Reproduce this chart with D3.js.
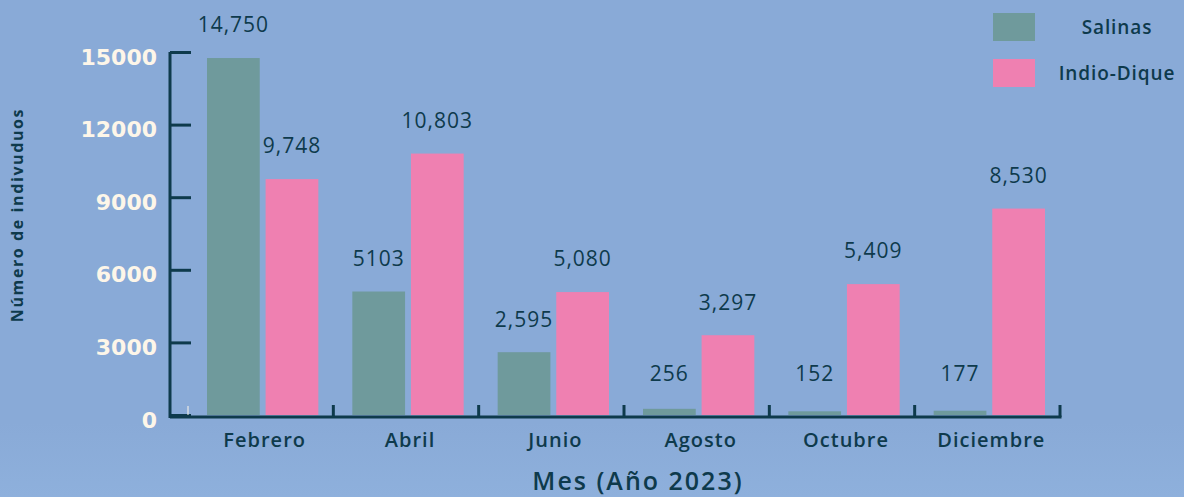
<!DOCTYPE html>
<html>
<head>
<meta charset="utf-8">
<script src="https://cdn.jsdelivr.net/npm/d3@7"></script>
<style>
  html, body { margin: 0; padding: 0; background: #89aad7; }
  svg { display: block; }
</style>
</head>
<body>
<div id="chart"></div>
<script>
// data
const months = ["Febrero", "Abril", "Junio", "Agosto", "Octubre", "Diciembre"];
const seriesNames = ["Salinas", "Indio-Dique"];
const salinas = [14750, 5103, 2595, 256, 152, 177];
const indioDique = [9748, 10803, 5080, 3297, 5409, 8530];
const salinasLabels = ["14,750", "5103", "2,595", "256", "152", "177"];
const indioLabels = ["9,748", "10,803", "5,080", "3,297", "5,409", "8,530"];
const yTicks = [0, 3000, 6000, 9000, 12000, 15000];

const width = 1184, height = 497;
const dark = "#0e3a4c";
const colors = { "Salinas": "#6f9a9c", "Indio-Dique": "#ef80b1" };

const svg = d3.select("#chart").append("svg")
    .attr("width", width)
    .attr("height", height);

const defs = svg.append("defs");
const grad = defs.append("linearGradient")
    .attr("id", "bg").attr("x1", 0).attr("y1", 0).attr("x2", 0).attr("y2", 1);
grad.append("stop").attr("offset", "0%").attr("stop-color", "#89aad7");
grad.append("stop").attr("offset", "85%").attr("stop-color", "#89aad7");
grad.append("stop").attr("offset", "100%").attr("stop-color", "#8eb0dc");
svg.append("rect").attr("width", width).attr("height", height).attr("fill", "url(#bg)");

const y = d3.scaleLinear().domain([0, 15000]).range([415, 52]);
const x0 = d3.scaleBand().domain(months).range([188, 1060]).padding(0);
const x1 = d3.scaleBand().domain(seriesNames)
    .range([19, x0.bandwidth() - 15]).paddingInner(0.1);

const data = months.map((m, i) => ({
    month: m,
    values: [
        { key: "Salinas", value: salinas[i], label: salinasLabels[i] },
        { key: "Indio-Dique", value: indioDique[i], label: indioLabels[i] }
    ]
}));

// bars
const groups = svg.selectAll(".group")
    .data(data)
    .enter().append("g")
    .attr("class", "group")
    .attr("transform", d => `translate(${x0(d.month)},0)`);

groups.selectAll("rect")
    .data(d => d.values)
    .enter().append("rect")
    .attr("x", d => x1(d.key))
    .attr("y", d => y(d.value))
    .attr("width", x1.bandwidth())
    .attr("height", d => y(0) - y(d.value))
    .attr("fill", d => colors[d.key]);

groups.selectAll(".value-label")
    .data(d => d.values)
    .enter().append("text")
    .attr("class", "value-label")
    .attr("x", d => x1(d.key) + x1.bandwidth() / 2)
    .attr("y", d => Math.min(y(d.value), y(0) - 8) - 33)
    .attr("dy", "0.35em")
    .attr("text-anchor", "middle")
    .style("font-family", "'Open Sans', sans-serif")
    .style("font-size", "21px")
    .style("font-weight", 500)
    .style("letter-spacing", "1px")
    .style("fill", dark)
    .text(d => d.label);

// y axis
const yAxis = d3.axisLeft(y)
    .tickValues(yTicks)
    .tickSize(-21)
    .tickPadding(13)
    .tickFormat(d3.format("d"));

const yAxisGroup = svg.append("g")
    .attr("class", "y-axis")
    .attr("transform", "translate(170,0)")
    .call(yAxis);

yAxisGroup.select(".domain").remove();
yAxisGroup.append("line")
    .attr("x1", 0).attr("x2", 0)
    .attr("y1", y(15000)).attr("y2", y(0) + 3)
    .attr("stroke", dark).attr("stroke-width", 3);
yAxisGroup.selectAll(".tick line")
    .attr("stroke", dark).attr("stroke-width", 3);
yAxisGroup.selectAll(".tick text")
    .attr("dy", "0.55em")
    .style("font-family", "'DejaVu Sans', sans-serif")
    .style("font-size", "22px")
    .style("font-weight", "bold")
    .style("fill", "#fdf6e9");

// x axis
svg.append("line")
    .attr("x1", 170).attr("x2", x0.range()[1] + 1.5)
    .attr("y1", y(0) + 2).attr("y2", y(0) + 2)
    .attr("stroke", dark).attr("stroke-width", 3);

svg.selectAll(".x-sep")
    .data(months)
    .enter().append("line")
    .attr("class", "x-sep")
    .attr("x1", d => x0(d) + x0.bandwidth())
    .attr("x2", d => x0(d) + x0.bandwidth())
    .attr("y1", y(0) - 10).attr("y2", y(0) + 2)
    .attr("stroke", dark).attr("stroke-width", 3);

svg.append("line")
    .attr("x1", x0.range()[0]).attr("x2", x0.range()[0])
    .attr("y1", y(0) - 9).attr("y2", y(0))
    .attr("stroke", "#fdf6e9").attr("stroke-width", 1);

const xAxis = d3.axisBottom(x0).tickSize(0).tickPadding(16);
const xAxisGroup = svg.append("g")
    .attr("class", "x-axis")
    .attr("transform", `translate(4,${y(0) + 2})`)
    .call(xAxis);
xAxisGroup.select(".domain").remove();
xAxisGroup.selectAll(".tick text")
    .style("font-family", "'Open Sans', sans-serif")
    .style("font-size", "20px")
    .style("font-weight", 600)
    .style("letter-spacing", "1px")
    .style("fill", dark);

// axis titles
svg.append("text")
    .attr("x", 638)
    .attr("y", 490)
    .attr("text-anchor", "middle")
    .style("font-family", "'Open Sans', sans-serif")
    .style("font-size", "25px")
    .style("font-weight", 600)
    .style("letter-spacing", "2px")
    .style("fill", dark)
    .text("Mes (Año 2023)");

svg.append("text")
    .attr("transform", "translate(23,215) rotate(-90)")
    .attr("text-anchor", "middle")
    .style("font-family", "'Open Sans', sans-serif")
    .style("font-size", "16px")
    .style("font-weight", 700)
    .style("letter-spacing", "1.6px")
    .style("fill", dark)
    .text("Número de indivuduos");

// legend
const legend = svg.selectAll(".legend")
    .data(seriesNames)
    .enter().append("g")
    .attr("class", "legend")
    .attr("transform", (d, i) => `translate(993,${13 + i * 46})`);

legend.append("rect")
    .attr("width", 42).attr("height", 28)
    .attr("fill", d => colors[d]);

legend.append("text")
    .attr("x", 124).attr("y", 14)
    .attr("dy", "0.35em")
    .attr("text-anchor", "middle")
    .style("font-family", "'Open Sans', sans-serif")
    .style("font-size", "19px")
    .style("font-weight", 600)
    .style("letter-spacing", "0.9px")
    .style("fill", dark)
    .text(d => d);
</script>
</body>
</html>
